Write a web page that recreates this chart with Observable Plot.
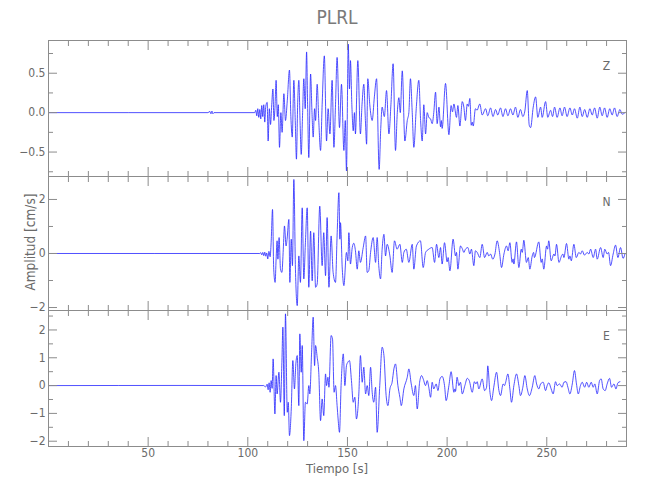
<!DOCTYPE html>
<html><head><meta charset="utf-8">
<script src="https://cdn.jsdelivr.net/npm/d3@7"></script>
<script src="https://cdn.jsdelivr.net/npm/@observablehq/plot@0.6"></script>
<style>
body{margin:0;background:#fff;}
#chart{position:relative;width:650px;height:500px;background:#fff;font-family:"Liberation Sans Narrow","DejaVu Sans Condensed","Roboto",sans-serif;color:#666;}
#chart svg{position:absolute;left:0;overflow:visible;}
.t{position:absolute;white-space:nowrap;color:#6a6a6a;}
</style></head><body><div id="chart"></div>
<script>
const title = "PLRL";
const xLabel = "Tiempo [s]";
const yLabel = "Amplitud [cm/s]";
const components = ["Z", "N", "E"];

// [time (s), amplitude (cm/s)] turning points
const zTrace = [[0,0],[80,0],[81,0.015],[81.5,-0.015],[82,0.02],[82.5,-0.015],[83,0],[103.5,0],
[104,0.03],[104.5,-0.04],[105,0.05],[105.5,-0.06],[106,0.04],[106.5,-0.08],[107,0.09],[107.5,-0.05],[108,0.1],[108.5,-0.12],[109,0.08],[109.7,0.13],[110.2,-0.36],[110.8,0.05],[111.4,-0.15],[112.0,0.1],[112.6,0.30],[113.1,-0.1],[113.6,0.05],[114.2,0.41],[114.8,-0.05],[115.3,0.1],[115.9,-0.44],[116.6,0.0],[117.2,-0.25],[118.1,0.24],[118.9,-0.1],[119.8,0.15],[120.9,0.54],[121.6,-0.05],[122.3,-0.31],[123.1,0.41],[123.8,-0.1],[124.4,-0.59],[125.0,0.1],[125.6,0.41],[126.2,-0.1],[126.8,-0.53],[127.5,0.0],[128.1,0.43],[128.8,0.05],[129.5,0.77],[130.0,0.1],[130.6,-0.57],[131.5,0.49],[132.2,0.0],[132.8,-0.31],[133.5,0.05],[134.0,-0.1],[134.8,0.36],[135.6,-0.1],[136.5,-0.48],[137.3,0.1],[138.4,0.72],[139.5,-0.36],[140.3,0.05],[141.2,-0.27],[142.3,0.41],[143.2,-0.44],[144.0,0.1],[144.8,0.70],[146.0,-0.19],[147.0,0.36],[148.2,-0.48],[148.9,-0.1],[149.5,-0.74],[150.4,0.87],[151.0,0.3],[151.5,0.66],[152.2,0.1],[152.9,-0.23],[153.5,0.0],[154.0,-0.27],[155.2,0.66],[156.5,-0.27],[157.3,0.1],[158.2,0.36],[159.0,-0.1],[159.6,-0.40],[160.2,0.43],[161.2,0.1],[162.4,-0.10],[163.5,0.2],[164.6,0.43],[165.9,-0.72],[166.7,-0.2],[167.4,0.07],[168.5,-0.05],[169.6,0.28],[170.8,-0.27],[171.8,0.1],[172.9,0.62],[174.1,-0.48],[175.0,0.0],[175.8,0.19],[176.5,0.0],[177.5,0.53],[178.8,-0.36],[180.0,-0.10],[180.8,0.0],[181.6,0.43],[182.5,0.0],[183.3,-0.44],[184.5,0.05],[185.8,0.41],[186.7,-0.1],[187.5,-0.36],[188.3,0.1],[189.2,-0.27],[190.0,0.0],[190.8,-0.06],
[191.7,-0.08],[192.5,-0.14],[193.3,0],[194.2,0.26],[195.0,-0.14],[195.9,0.07],[196.7,-0.18],[197.1,-0.1],[197.5,-0.2],[199.2,0.37],[200.9,-0.28],[202.0,0.09],[202.7,0.01],[203.4,0.11],[204.7,-0.06],[205.4,0.09],[206.4,-0.17],[207.6,0.14],[208.4,0.07],[209.2,-0.1],[210.1,0.11],[210.7,0.08],[211.4,0.18],[212.1,-0.16],[212.6,-0.12],[213.1,-0.17],[214.2,0.05],[215.0,0.03],[216.4,0.11],[217.6,-0.03],[219.3,0.05],[220.4,-0.04],[221.8,0.06],[223.0,-0.05],[224.3,0.04],[225.4,-0.03],[226.8,0.06],[228.0,-0.05],[229.3,0.05],[230.5,-0.04],[231.8,0.05],[233.0,-0.03],[234.3,0.07],[235.5,-0.06],[236.8,0.04],[238.0,-0.05],[239.0,0.02],[240.2,0.28],[241.2,-0.16],[241.9,-0.19],[243.2,0.07],[244.4,0.2],[245.5,-0.06],[246.9,0.07],[247.7,-0.06],[249.4,0.14],[250.5,-0.06],[251.9,0.03],[252.9,-0.05],[253.9,0.07],[255.2,-0.06],[256.6,0.06],[257.7,-0.04],[258.9,0.07],[260.2,-0.05],[261.6,0.06],[262.8,-0.03],[263.9,0.05],[265.3,-0.07],[266.6,0.07],[267.8,-0.05],[269.0,0.04],[270.3,-0.06],[271.6,0.05],[272.8,-0.03],[274.0,0.06],[275.3,-0.07],[276.6,0.07],[277.8,-0.04],[279.0,0.06],[280.3,-0.06],[281.6,0.05],[282.8,-0.03],[284.0,0.06],[285.3,-0.05],[286.7,0.04],[287.8,-0.02],[289.2,0.0]];

const nTrace = [[0,0],[106,0],[106.5,0.03],[107,-0.05],[107.5,0.04],[108,-0.08],[108.5,0.05],[109,-0.1],[109.5,0.02],[110,-0.2],[110.6,0.08],[111.2,-0.12],[111.7,0.40],[112.4,1.63],[113.0,-0.58],[113.7,-1.07],[114.2,-0.2],[114.7,0.47],[115.1,-0.21],[115.7,0.59],[116.4,-0.58],[117.1,-0.70],[117.8,0.16],[118.4,1.02],[119.2,0.28],[119.7,0.53],[120.6,1.26],[121.1,-1.07],[121.8,0.53],[122.4,-0.45],[123.1,2.74],[123.9,-0.58],[124.8,-1.93],[125.6,-0.09],[126.4,-1.07],[127.3,1.69],[128.1,-0.94],[128.9,0.40],[129.8,1.69],[130.6,-1.25],[131.5,0.83],[132.3,-1.01],[133.1,0.77],[134.0,-1.25],[134.8,-1.13],[136.1,1.75],[137.3,-0.45],[138.1,0.77],[139.0,-0.82],[139.8,1.33],[140.7,-1.25],[141.8,0.65],[142.8,-0.70],[144.0,-1.07],[144.8,0.65],[145.7,2.25],[146.2,0.53],[146.5,1.14],[147.4,-0.58],[148.2,-1.19],[149.5,0.04],[150.2,-0.27],[150.7,0.77],[151.5,-0.39],[152.4,0.22],[153.2,0.38],[154.0,0.1],[154.9,-0.58],[155.7,0.1],[156.5,-0.33],[157.9,0.22],[159.1,0.65],[159.9,-0.70],[160.7,-0.63],[161.6,0.04],[162.9,0.59],[164.1,-0.33],[164.9,0.59],[165.7,-0.45],[166.6,-0.94],[167.4,0.16],[168.3,0.71],[169.1,-0.09],[169.9,0.34],[171.3,-0.09],[172.4,-0.70],[173.6,0.47],[174.9,0.16],[176.3,0.34],[177.5,-0.33],[178.3,0.04],[179.5,0.16],[180.8,-0.33],[182.5,0.34],[183.3,-0.58],[184.6,0.28],[186.6,0.47],[188.0,-0.52],[189.2,0.04],[190.8,0.16],
[192.5,0.22],[193.7,-0.33],[194.7,0.34],[195.85,-0.15],[196.7,0.22],[197.5,-0.39],[198.7,0.40],[200.0,-0.31],[200.5,-0.15],[201.4,-0.64],[203.0,0.53],[204.2,-0.09],[204.7,0.04],[205.4,-0.58],[206.7,0.28],[207.6,0.18],[208.4,0.04],[209.2,0.16],[210.4,0.22],[211.4,-0.02],[212.2,0.16],[213.4,-0.45],[214.2,0.10],[215.1,0.04],[216.4,-0.15],[217.6,0.34],[218.8,-0.15],[220.1,0.04],[220.9,-0.09],[221.8,-0.02],[222.9,-0.21],[224.0,-0.02],[225.1,0.47],[226.3,0.04],[227.3,-0.52],[228.5,-0.02],[229.8,0.28],[230.6,0.1],[231.5,0.40],[232.6,-0.33],[233.1,-0.2],[233.5,-0.39],[234.8,0.43],[236.0,-0.52],[237.2,0.16],[237.7,0.04],[238.5,0.49],[239.8,-0.33],[240.7,-0.15],[241.5,-0.58],[242.7,-0.09],[243.4,0.04],[243.8,-0.15],[246.0,0.43],[247.2,-0.33],[247.7,-0.2],[248.5,-0.58],[249.9,0.28],[250.4,0.16],[251.0,0.47],[252.2,-0.27],[253.6,-0.02],[254.1,-0.09],[254.9,0.34],[256.1,-0.33],[257.4,-0.09],[258.1,-0.02],[258.6,-0.15],[259.9,0.37],[261.1,-0.21],[261.6,-0.09],[262.3,-0.27],[263.6,0.34],[264.8,-0.15],[266.1,0.04],[266.9,-0.02],[267.8,0.10],[268.9,-0.06],[270.3,0.04],[271.1,-0.02],[272.0,0.16],[273.3,-0.15],[274.5,0.16],[275.3,-0.21],[277.0,0.22],[278.3,-0.15],[279.1,0.16],[280.3,-0.02],[281.0,0.04],[282.0,-0.45],[283.3,-0.02],[284.5,0.31],[285.7,-0.15],[287.0,0.22],[288.3,-0.18],[289.2,-0.02]];

const eTrace = [[0,0],[70,0.005],[108.0,0],[108.9,-0.05],[109.7,0.05],[110.2,-0.15],[110.7,0.1],[111.2,-0.24],[111.7,0.18],[112.2,-0.1],[112.7,0.96],[113.6,-1.02],[114.2,0.36],[114.7,-0.30],[115.6,0.48],[116.4,-0.60],[117.1,0.84],[117.6,2.10],[118.3,-1.08],[118.9,2.58],[119.8,-0.96],[120.3,-0.6],[120.9,-1.80],[121.8,-0.84],[122.6,0.90],[123.4,-0.12],[124.1,0.78],[124.8,1.08],[125.6,-0.72],[126.1,1.86],[126.8,0.48],[127.3,1.44],[128.1,-1.98],[128.9,-0.60],[129.8,-0.66],[130.6,0.0],[131.1,-0.30],[132.0,1.20],[132.8,2.46],[133.5,0.72],[134.0,1.44],[134.8,1.02],[135.6,0.48],[136.5,-1.26],[137.3,-0.48],[138.1,-1.08],[139.0,0.42],[139.5,0.0],[140.2,0.30],[140.7,-0.06],[141.8,1.80],[142.5,1.68],[143.3,-0.24],[144.0,0.0],[144.8,-0.72],[145.3,-1.2],[146.0,-1.68],[146.8,0.0],[147.9,1.14],[148.7,0.0],[149.5,0.72],[150.2,0.84],[151.0,0.90],[152.0,0.18],[152.9,-0.60],[153.7,-0.42],[154.5,-1.20],[155.7,-0.30],[156.5,1.08],[157.4,0.12],[158.2,0.66],[159.1,-0.30],[159.9,0.0],[160.7,-0.36],[161.6,0.66],[162.4,-0.24],[163.2,-0.60],[164.1,-0.06],[164.9,-1.68],[166.2,0.0],[167.4,1.38],[168.3,1.08],[169.4,-0.36],[170.3,-0.72],[171.3,-0.12],[172.4,0.12],[173.3,0.60],[174.1,0.78],[175.3,0.0],[176.3,-0.42],[177.0,-0.72],[178.3,-0.12],[180.0,0.30],[180.8,0.60],[182.0,0.06],[183.3,-0.36],[184.1,0.0],[185.0,-0.84],[186.2,0.12],[187.2,0.36],[188.0,0.24],[189.2,0.0],[190.0,0.18],[190.8,-0.06],[191.7,-0.42],
[192.5,0.12],[193.3,-0.12],[194.5,0.06],[195.4,-0.18],[196.4,0.24],[197.5,0.33],[198.7,0],[199.5,-0.54],[200.9,0],[202.0,0.50],[203.4,-0.24],[203.9,-0.12],[204.2,-0.21],[205.0,0.30],[205.9,0],[206.7,0.12],[207.6,-0.30],[208.9,0],[210.1,0.26],[211.1,0.18],[212.6,-0.24],[213.7,0.14],[214.4,0.06],[215.1,0.14],[215.9,-0.12],[217.6,0.24],[218.8,-0.18],[219.8,-0.06],[220.4,0.71],[221.4,-0.18],[222.3,-0.54],[223.4,-0.06],[224.8,0.48],[226.0,-0.18],[226.8,-0.36],[228.1,0.06],[228.8,0],[229.3,0.1],[230.5,0.42],[231.5,-0.12],[232.3,-0.60],[233.5,0],[234.8,0.42],[236.0,0],[236.8,-0.36],[238.0,-0.06],[239.0,0.36],[240.2,-0.12],[241.3,-0.36],[242.7,-0.06],[244.0,0.36],[244.9,0.06],[246.0,-0.12],[246.9,0.06],[248.2,0.12],[249.4,-0.18],[250.2,0],[251.0,0.10],[252.2,-0.12],[253.2,-0.30],[254.4,0.14],[255.2,0],[256.4,0.06],[257.7,-0.06],[258.6,0.12],[259.7,0.14],[260.6,-0.06],[261.6,-0.30],[262.8,0.06],[263.9,0.54],[264.9,0.06],[265.8,-0.30],[266.9,0],[267.8,0.12],[269.0,-0.06],[270.0,0.12],[271.1,-0.06],[272.3,0.12],[273.3,-0.06],[274.1,0.06],[275.3,-0.30],[276.5,0.18],[277.3,0.24],[278.3,-0.12],[279.3,-0.18],[280.3,0.06],[281.5,0.26],[282.5,-0.06],[283.7,0.06],[284.7,-0.12],[285.7,0.10],[286.7,0.14]];

const traces = [zTrace, nTrace, eTrace];
const xDomain = [0, 290];
const xMajorTicks = [50, 100, 150, 200, 250];
const xMinorTicks = [10, 20, 30, 40, 60, 70, 80, 90, 110, 120, 130, 140, 160, 170, 180, 190, 210, 220, 230, 240, 260, 270, 280];
const yDomains = [[-0.81, 0.915], [-2.11, 2.85], [-2.19, 2.7]];
const yMajorTicks = [[-0.5, 0, 0.5], [-2, 0, 2], [-2, -1, 0, 1, 2]];
const yMinorTicks = [[-0.75, -0.25, 0.25, 0.75], [-1, 1], [-1.5, -0.5, 0.5, 1.5, 2.5]];
const yFormats = [".1f", "d", "d"];

// layout (pixels)
const panelTops = [40, 176, 310];
const panelHeights = [136, 134, 136];
const W = 650, ML = 48, MR = 24, PAD = 14;
const axisColor = "#8c8c8c", textColor = "#6a6a6a", lineColor = "#2424ff";
const font = '"Liberation Sans Narrow","DejaVu Sans Condensed","Roboto",sans-serif';

const chart = document.getElementById("chart");

components.forEach((comp, i) => {
  const last = i === components.length - 1;
  const mb = last ? 40 : PAD;
  const data = traces[i].map(([t, v]) => ({t, v}));
  const svg = Plot.plot({
    width: W,
    height: panelHeights[i] + PAD + mb,
    marginLeft: ML, marginRight: MR, marginTop: PAD, marginBottom: mb,
    style: {background: "transparent", fontFamily: font, fontSize: "12px", color: textColor, overflow: "visible"},
    x: {domain: xDomain},
    y: {domain: yDomains[i]},
    marks: [
      Plot.line(data, {x: "t", y: "v", stroke: lineColor, strokeWidth: 0.8, curve: "monotone-x", clip: true}),
      Plot.frame({stroke: axisColor}),
      // inward ticks: major / minor on all four sides
      Plot.axisX(xMajorTicks, {anchor: "top", tickSize: 9, dy: 9, fill: "none", stroke: axisColor, label: null}),
      Plot.axisX(xMinorTicks, {anchor: "top", tickSize: 5, dy: 5, fill: "none", stroke: axisColor, label: null}),
      Plot.axisX(xMajorTicks, {anchor: "bottom", tickSize: 9, dy: -9, fill: "none", stroke: axisColor, label: null}),
      Plot.axisX(xMinorTicks, {anchor: "bottom", tickSize: 5, dy: -5, fill: "none", stroke: axisColor, label: null}),
      Plot.axisY(yMajorTicks[i], {anchor: "left", tickSize: 9, dx: 9, fill: "none", stroke: axisColor, label: null}),
      Plot.axisY(yMinorTicks[i], {anchor: "left", tickSize: 5, dx: 5, fill: "none", stroke: axisColor, label: null}),
      Plot.axisY(yMajorTicks[i], {anchor: "right", tickSize: 9, dx: -9, fill: "none", stroke: axisColor, label: null}),
      Plot.axisY(yMinorTicks[i], {anchor: "right", tickSize: 5, dx: -5, fill: "none", stroke: axisColor, label: null}),
      Plot.axisY(yMajorTicks[i], {anchor: "left", tickSize: 0, tickPadding: 3, tickFormat: d3.format(yFormats[i]), fill: textColor, label: null}),
      last ? Plot.axisX(xMajorTicks, {anchor: "bottom", tickSize: 0, tickPadding: 2, fill: textColor, label: null}) : null,
      Plot.text([comp], {frameAnchor: "top-right", dx: -20, dy: 21, text: d => d, fill: textColor, fontSize: 12, textAnchor: "middle"})
    ]
  });
  svg.style.top = (panelTops[i] - PAD) + "px";
  chart.appendChild(svg);
});

const addText = (txt, css) => {
  const d = document.createElement("div");
  d.className = "t";
  d.textContent = txt;
  Object.assign(d.style, css);
  chart.appendChild(d);
};
addText(title, {left: ML + "px", width: (W - ML - MR) + "px", top: "6px", fontSize: "19px", textAlign: "center", color: "#7a7a7a"});
addText(xLabel, {left: ML + "px", width: (W - ML - MR) + "px", top: "461px", fontSize: "13px", textAlign: "center"});
addText(yLabel, {left: "30px", top: "242px", fontSize: "13.5px", transform: "translate(-50%,-50%) rotate(-90deg)"});
</script></body></html>
